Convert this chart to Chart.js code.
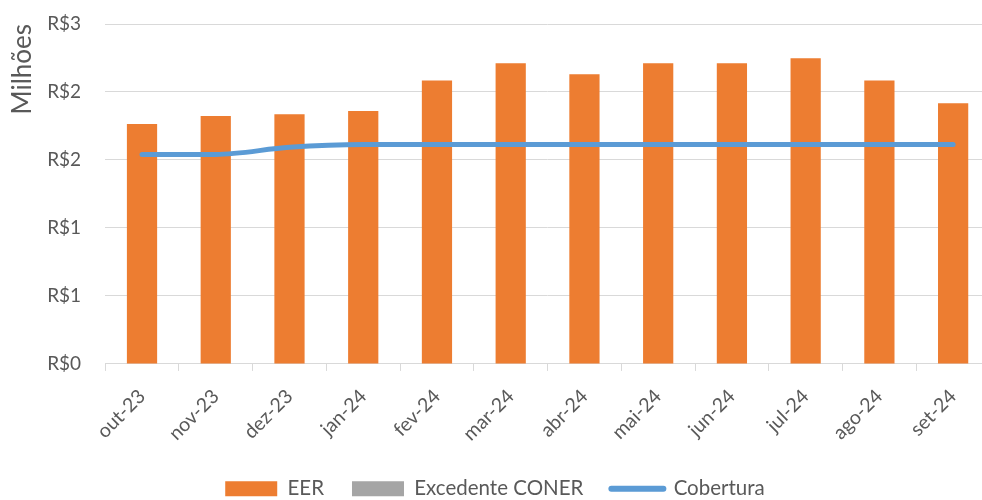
<!DOCTYPE html>
<html>
<head>
<meta charset="utf-8">
<script src="https://cdn.jsdelivr.net/npm/chart.js@4.4.1/dist/chart.umd.min.js"></script>
<style>
  html, body { margin: 0; padding: 0; background: #fff; overflow: hidden; }
  #wrap { width: 992px; height: 500px; }
</style>
</head>
<body>
<div id="wrap"><canvas id="chart"></canvas></div>
<script>
const months = ['out-23', 'nov-23', 'dez-23', 'jan-24', 'fev-24', 'mar-24', 'abr-24', 'mai-24', 'jun-24', 'jul-24', 'ago-24', 'set-24'];
const eer = [1.764, 1.823, 1.836, 1.860, 2.084, 2.211, 2.130, 2.211, 2.211, 2.248, 2.084, 1.917];
const excedente = [0, 0, 0, 0, 0, 0, 0, 0, 0, 0, 0, 0];
const cobertura = [1.541, 1.541, 1.593, 1.613, 1.613, 1.613, 1.613, 1.613, 1.613, 1.613, 1.613, 1.613];
const yTickLabels = ['R$0', 'R$1', 'R$1', 'R$2', 'R$2', 'R$3'];

const grey = '#595959';
Chart.defaults.font.family = 'Lato, "Open Sans", sans-serif';
Chart.defaults.color = grey;

new Chart(document.getElementById('chart'), {
  type: 'bar',
  data: {
    labels: months,
    datasets: [{
      label: 'EER',
      data: eer,
      backgroundColor: '#ED7D31',
      stack: 'bars',
      order: 1
    }, {
      label: 'Excedente CONER',
      data: excedente,
      backgroundColor: '#A5A5A5',
      stack: 'bars',
      order: 1
    }, {
      type: 'line',
      label: 'Cobertura',
      data: cobertura,
      borderColor: '#5B9BD5',
      backgroundColor: '#5B9BD5',
      borderWidth: 5,
      borderCapStyle: 'round',
      pointRadius: 0,
      cubicInterpolationMode: 'monotone',
      stack: 'line',
      order: 0
    }]
  },
  options: {
    responsive: true,
    maintainAspectRatio: false,
    animation: false,
    layout: { padding: { top: 0, right: 2, left: 0, bottom: -9 } },
    datasets: {
      bar: { barPercentage: 0.41, categoryPercentage: 1 }
    },
    plugins: {
      tooltip: { enabled: false },
      legend: {
        position: 'bottom',
        labels: {
          usePointStyle: true,
          pointStyleWidth: 52,
          boxHeight: 15,
          padding: 28,
          font: { size: 20.5 },
          color: grey,
          sort: (a, b) => a.datasetIndex - b.datasetIndex,
          generateLabels: chart => chart.data.datasets.map((ds, i) => ({
            text: ds.label,
            datasetIndex: i,
            fillStyle: ds.backgroundColor,
            strokeStyle: ds.type === 'line' ? ds.borderColor : ds.backgroundColor,
            lineWidth: ds.type === 'line' ? 6 : 0,
            lineCap: 'round',
            pointStyle: ds.type === 'line' ? 'line' : 'rect',
            fontColor: grey,
            hidden: false
          }))
        }
      }
    },
    scales: {
      x: {
        stacked: true,
        afterFit: scale => {
          scale.paddingLeft = 0;
          scale.height -= 9;
        },
        grid: {
          display: true,
          offset: true,
          drawOnChartArea: false,
          drawTicks: true,
          tickLength: 7,
          color: '#D9D9D9'
        },
        border: { display: true, color: '#D9D9D9' },
        ticks: {
          minRotation: 45,
          maxRotation: 45,
          padding: 14,
          font: { size: 19.5 },
          color: grey
        }
      },
      y: {
        stacked: true,
        min: 0,
        max: 2.5,
        afterFit: scale => {
          scale.paddingTop = 24;
          scale.paddingBottom = 0;
        },
        grid: { color: '#D9D9D9', drawTicks: false },
        border: { display: false },
        ticks: {
          stepSize: 0.5,
          padding: 24,
          font: { size: 19 },
          color: grey,
          callback: (v, i) => yTickLabels[i]
        },
        title: {
          display: true,
          text: 'Milhões',
          align: 'end',
          padding: { top: 7, bottom: -15 },
          font: { size: 26 },
          color: grey
        }
      }
    }
  }
});
</script>
</body>
</html>
